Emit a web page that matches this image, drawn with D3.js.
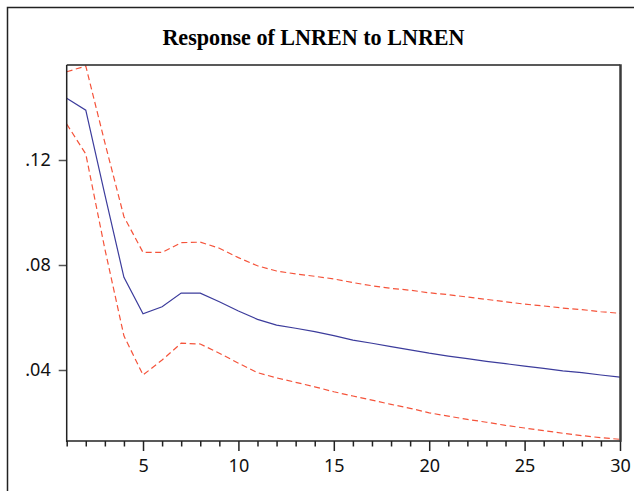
<!DOCTYPE html>
<html>
<head>
<meta charset="utf-8">
<script src="https://cdn.jsdelivr.net/npm/d3@7"></script>
<style>
  html, body { margin: 0; padding: 0; background: #fff; }
  svg { display: block; }
</style>
</head>
<body>
<script>
// ---- data ----
const title = "Response of LNREN to LNREN";
const periods = d3.range(1, 31);
const response = [0.1435, 0.1390, 0.1068, 0.0753, 0.0614, 0.0641, 0.0693, 0.0693, 0.0660, 0.0625,
                  0.0593, 0.0571, 0.0559, 0.0546, 0.0531, 0.0514, 0.0502, 0.0489, 0.0477, 0.0464,
                  0.0453, 0.0443, 0.0433, 0.0424, 0.0415, 0.0406, 0.0397, 0.0390, 0.0381, 0.0373];
const upperBand = [0.1536, 0.1558, 0.1266, 0.0984, 0.0848, 0.0848, 0.0885, 0.0887, 0.0864, 0.0828,
                   0.0797, 0.0777, 0.0766, 0.0757, 0.0747, 0.0733, 0.0721, 0.0711, 0.0704, 0.0694,
                   0.0687, 0.0678, 0.0669, 0.0660, 0.0651, 0.0644, 0.0636, 0.0630, 0.0622, 0.0616];
const lowerBand = [0.1337, 0.1223, 0.0861, 0.0530, 0.0381, 0.0438, 0.0502, 0.0499, 0.0464, 0.0426,
                   0.0390, 0.0370, 0.0353, 0.0336, 0.0317, 0.0301, 0.0285, 0.0269, 0.0254, 0.0237,
                   0.0224, 0.0212, 0.0201, 0.0189, 0.0179, 0.0169, 0.0159, 0.0150, 0.0142, 0.0136];
const yTicks = [0.04, 0.08, 0.12];
const xMajorTicks = [5, 10, 15, 20, 25, 30];

// ---- layout ----
const W = 634, H = 491;
const plot = { left: 66.7, right: 620, top: 65, bottom: 441 };

const svg = d3.select("body").append("svg").attr("width", W).attr("height", H);

// outer frame (extends past the window on right/bottom)
svg.append("path")
  .attr("d", `M7.5,${H + 5} L7.5,7.5 L${W + 5},7.5`)
  .attr("fill", "none").attr("stroke", "#222").attr("stroke-width", 1.5);

const x = d3.scaleLinear().domain([1, 30]).range([plot.left, plot.right]);
const y = d3.scaleLinear().domain([0.12 - (plot.bottom - 160) / 2625, 0.12 + (160 - plot.top) / 2625])
  .range([plot.bottom, plot.top]);

// title
const t = svg.append("text")
  .attr("x", 313.5).attr("y", 44.5)
  .attr("text-anchor", "middle")
  .attr("font-family", "'Liberation Serif', serif")
  .attr("font-weight", "bold")
  .attr("font-size", 24)
  .attr("fill", "#000")
  .text(title);
const tw = t.node().getBBox().width;
t.attr("font-size", Math.min(24, 24 * 303 / tw));

// lines
const line = d3.line().x((d, i) => x(periods[i])).y(d => y(d));
svg.append("path").datum(upperBand).attr("d", line)
  .attr("fill", "none").attr("stroke", "#f5533a").attr("stroke-width", 1.2).attr("stroke-dasharray", "6,3.5");
svg.append("path").datum(lowerBand).attr("d", line)
  .attr("fill", "none").attr("stroke", "#f5533a").attr("stroke-width", 1.2).attr("stroke-dasharray", "6,3.5");
svg.append("path").datum(response).attr("d", line)
  .attr("fill", "none").attr("stroke", "#3c3c9c").attr("stroke-width", 1.2);

// y axis
const yAxis = d3.axisLeft(y).tickValues(yTicks).tickSize(8).tickPadding(8)
  .tickFormat(d => d3.format(".2f")(d).replace(/^0/, ""));
const gy = svg.append("g").attr("transform", `translate(${plot.left},0)`).call(yAxis);
gy.select(".domain").remove();
gy.selectAll(".tick line").attr("stroke", "#555").attr("stroke-width", 1.5);
gy.selectAll(".tick text").attr("font-family", "'Noto Sans', sans-serif").attr("font-size", 18).attr("fill", "#111");

// x axis: minor ticks every period, major at multiples of 5
const xMinor = d3.axisBottom(x).tickValues(periods.filter(p => !xMajorTicks.includes(p))).tickSize(5.5).tickFormat("");
const gxm = svg.append("g").attr("transform", `translate(0,${plot.bottom})`).call(xMinor);
gxm.select(".domain").remove();
gxm.selectAll(".tick line").attr("stroke", "#222").attr("stroke-width", 1.5);

const xAxis = d3.axisBottom(x).tickValues(xMajorTicks).tickSize(10).tickPadding(6).tickFormat(d3.format("d"));
const gx = svg.append("g").attr("transform", `translate(0,${plot.bottom})`).call(xAxis);
gx.select(".domain").remove();
gx.selectAll(".tick line").attr("stroke", "#222").attr("stroke-width", 1.5);
gx.selectAll(".tick text").attr("font-family", "'Noto Sans', sans-serif").attr("font-size", 18).attr("fill", "#111")
  .attr("dy", null).attr("y", 31);

// plot frame
svg.append("line").attr("x1", plot.left).attr("x2", plot.left).attr("y1", plot.top).attr("y2", plot.bottom + 1)
  .attr("stroke", "#222").attr("stroke-width", 1.5);
svg.append("line").attr("x1", plot.left).attr("x2", plot.right).attr("y1", plot.top).attr("y2", plot.top)
  .attr("stroke", "#222").attr("stroke-width", 1.5);
svg.append("line").attr("x1", plot.left).attr("x2", plot.right + 1).attr("y1", plot.bottom).attr("y2", plot.bottom)
  .attr("stroke", "#222").attr("stroke-width", 1.5);
svg.append("line").attr("x1", plot.right + 0.5).attr("x2", plot.right + 0.5).attr("y1", plot.top - 0.7).attr("y2", plot.bottom + 0.7)
  .attr("stroke", "#3a3a3a").attr("stroke-width", 2.5);
</script>
</body>
</html>
